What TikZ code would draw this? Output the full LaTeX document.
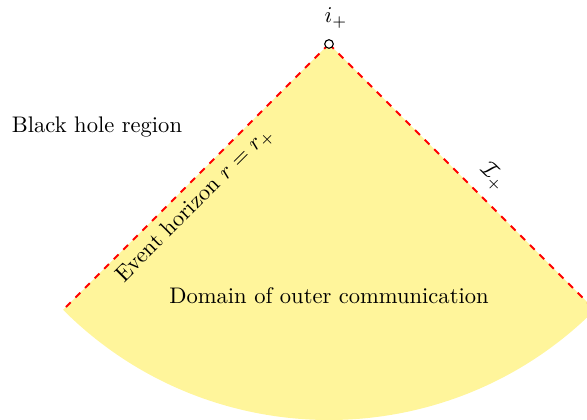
\documentclass[tikz,border=0pt]{standalone}
\usepackage{amsmath}
\usetikzlibrary{calc}
\definecolor{domfill}{RGB}{255,245,155}
\begin{document}
\begin{tikzpicture}[x=0.4435pt,y=-0.4435pt,
  horizon/.style={red,thick,dashed},
  lbl/.style={inner sep=1pt},
  dot/.style={circle,draw=black,fill=white,inner sep=0pt,minimum size=3.8pt,line width=0.5pt}]
\useasboundingbox (0,0) rectangle (587,420);
\clip (0,0) rectangle (587,420);
\coordinate (apex) at (329,44);
\coordinate (L) at ($(apex)+(135:376)$);
\coordinate (R) at ($(apex)+(45:376)$);
\fill[domfill] (apex) -- (L) arc[start angle=135,end angle=45,radius=376] -- cycle;
\draw[horizon] (apex) -- (L);
\draw[horizon] (apex) -- (R);
\node[dot] (ip) at (apex) {};
\node[lbl] (iplabel) at (336,18) {$i_+$};
\node[lbl] (bh) at (97,127) {Black hole region};
\node[lbl] (doc) at (329,296) {Domain of outer communication};
\node[lbl,rotate=45] (eh) at (195,205) {Event horizon $r=r_+$};
\node[lbl,rotate=-45] (scri) at (493,177) {$\mathcal{I}_+$};
\end{tikzpicture}
\end{document}
